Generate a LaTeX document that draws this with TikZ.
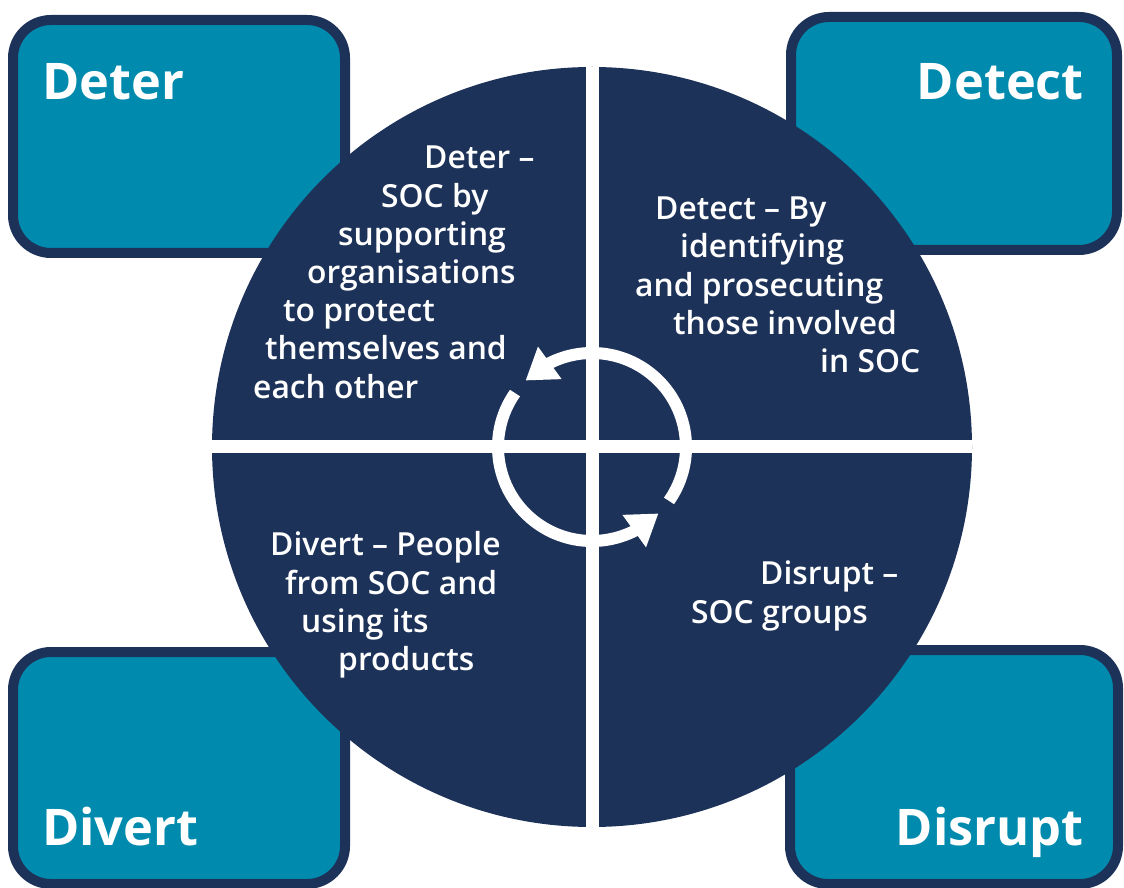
\documentclass[tikz,border=0pt]{standalone}
\usepackage{fontspec}
\setmainfont{Open Sans}
\IfFontExistsTF{Open Sans SemiBold}
  {\newfontfamily\bodyfont{Open Sans SemiBold}}
  {\IfFontExistsTF{Open Sans Semibold}
    {\newfontfamily\bodyfont{Open Sans Semibold}}
    {\newfontfamily\bodyfont{Open Sans}[FakeBold=1.1]}}
\newfontfamily\headfont{Open Sans}
\usetikzlibrary{arrows.meta,bending}
\definecolor{navy}{RGB}{29,50,89}
\definecolor{boxteal}{RGB}{0,139,174}
\begin{document}
\begin{tikzpicture}[x=1pt,y=1pt,
  cornerbox/.style={draw=navy, fill=boxteal, line width=10pt,
    rounded corners=38pt, rectangle, inner sep=0pt},
  heading/.style={text=white, inner sep=0pt,
    font=\headfont\bfseries\fontsize{50.5}{50.5}\selectfont},
  body/.style={text=white, inner sep=0pt, anchor=base west,
    font=\bodyfont\fontsize{31.8}{31.8}\selectfont},
  cross/.style={draw=white, line width=13pt},
  cycle/.style={draw=white, line width=12pt,
    -{Triangle[length=30pt,width=38pt,flex]}}]
\useasboundingbox (0,0) rectangle (1124,887);

% four corner boxes, behind the disc
\node[cornerbox, minimum width=332pt, minimum height=233pt] (bTL) at (179,750.5) {};
\node[cornerbox, minimum width=326pt, minimum height=233pt] (bTR) at (954,753.5) {};
\node[cornerbox, minimum width=332pt, minimum height=232pt] (bBL) at (179,119) {};
\node[cornerbox, minimum width=328pt, minimum height=234pt] (bBR) at (954,120) {};

\node[heading, anchor=base west] (hTL) at (42,787) {Deter};
\node[heading, anchor=base east] (hTR) at (1084,787) {Detect};
\node[heading, anchor=base west] (hBL) at (42,42) {Divert};
\node[heading, anchor=base east] (hBR) at (1084,42) {Disrupt};

% central disc split into four quadrants
\node[circle, fill=navy, minimum size=760pt, inner sep=0pt] (disc) at (592,440) {};
\draw[cross] (disc.west) -- (disc.east);
\draw[cross] (disc.north) -- (disc.south);

% cycle arrows
\draw[cycle] ([shift={(-35:94)}]disc.center) arc[start angle=-35, end angle=135, radius=94];
\draw[cycle] ([shift={(145:94)}]disc.center) arc[start angle=145, end angle=315, radius=94];

% Deter quadrant
\node[body] (d1) at (424,718)   {Deter –};
\node[body] (d2) at (381,679.8) {SOC by};
\node[body] (d3) at (338,641.6) {supporting};
\node[body] (d4) at (307,603.4) {organisations};
\node[body] (d5) at (283,565.2) {to protect};
\node[body] (d6) at (265,527)   {themselves and};
\node[body] (d7) at (253,488.8) {each other};

% Detect quadrant
\node[body] (t1) at (655,667) {Detect – By};
\node[body] (t2) at (680,629) {identifying};
\node[body] (t3) at (635,590) {and prosecuting};
\node[body] (t4) at (673,552) {those involved};
\node[body] (t5) at (820,514) {in SOC};

% Divert quadrant
\node[body] (v1) at (270,331) {Divert – People};
\node[body] (v2) at (285,293) {from SOC and};
\node[body] (v3) at (301,255) {using its};
\node[body] (v4) at (338,217) {products};

% Disrupt quadrant
\node[body] (r1) at (760,302) {Disrupt –};
\node[body] (r2) at (691,264) {SOC groups};
\end{tikzpicture}
\end{document}
